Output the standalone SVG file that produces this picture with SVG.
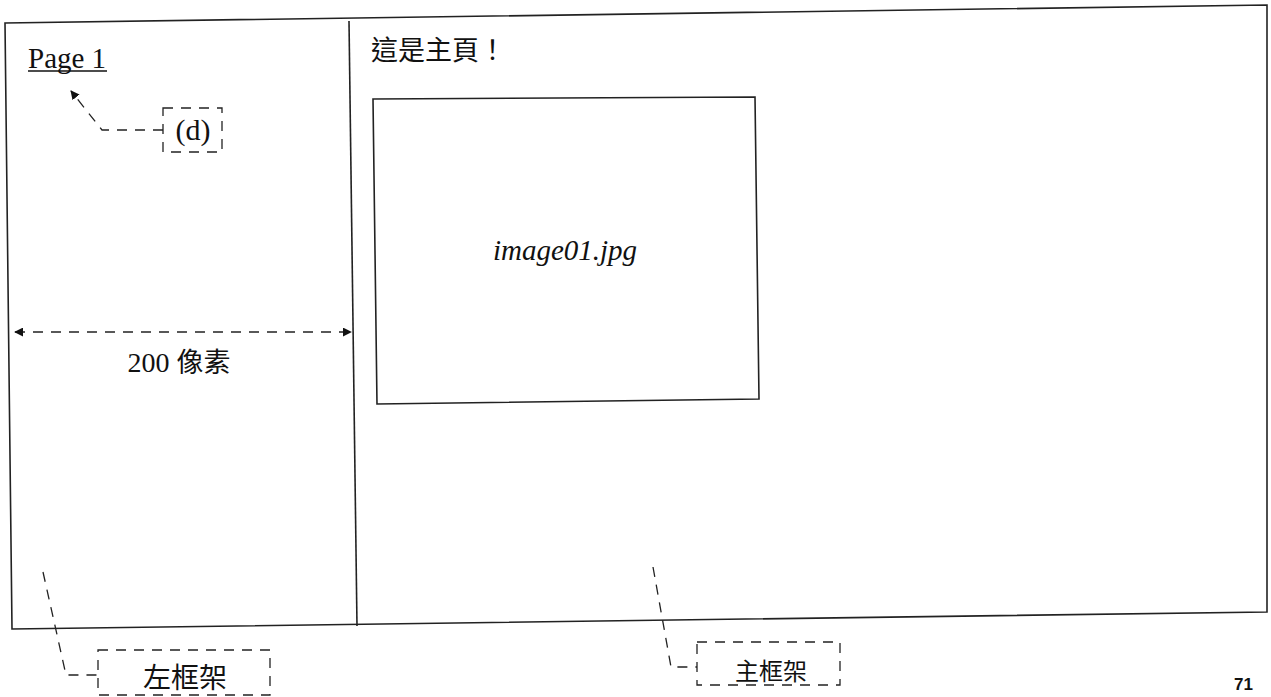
<svg xmlns="http://www.w3.org/2000/svg" width="1271" height="697" viewBox="0 0 1271 697">
<style>
.frame{fill:none;stroke:#222;stroke-width:1.6}
.dash{fill:none;stroke:#222;stroke-width:1.3;stroke-dasharray:10 8}
.serif{font-family:"Liberation Serif","Noto Sans CJK TC",serif;fill:#111}
.cjk{font-family:"Noto Sans CJK TC","Liberation Sans",sans-serif;fill:#111}
</style>
<defs>
<marker id="arr" viewBox="0 0 10 10" refX="9" refY="5" markerWidth="9" markerHeight="9" orient="auto-start-reverse" markerUnits="userSpaceOnUse">
<path d="M0,0 L10,5 L0,10 Z" fill="#111"/>
</marker>
</defs>
<rect width="1271" height="697" fill="#fff"/>
<g id="browser-window">
<polygon class="frame" points="5,23 1267,5 1267,612 12,629"/>
</g>
<g id="left-frame">
<line class="frame" x1="349" y1="21" x2="357" y2="626"/>
<text class="serif" x="28" y="68" font-size="29">Page 1</text>
<line x1="28" y1="71" x2="107" y2="71" stroke="#111" stroke-width="1.3"/>
<text class="serif" x="179" y="372" font-size="28" text-anchor="middle">200 <tspan font-family="Noto Sans CJK TC,sans-serif" font-size="27">像素</tspan></text>
</g>
<g id="main-frame">
<text class="cjk" x="371" y="60" font-size="27">這是主頁！</text>
<g id="image-box">
<polygon class="frame" points="373,99 755,97 759,399 377,404"/>
<text class="serif" x="565" y="260" font-size="29" font-style="italic" text-anchor="middle">image01.jpg</text>
</g>
</g>
<g id="label-d">
<rect class="dash" x="163" y="108" width="59" height="44"/>
<text class="serif" x="193" y="140" font-size="30" text-anchor="middle">(d)</text>
</g>
<g id="label-left">
<rect class="dash" x="98" y="650" width="172" height="45"/>
<text class="cjk" x="185" y="688" font-size="28" text-anchor="middle">左框架</text>
</g>
<g id="label-main">
<rect class="dash" x="697" y="642" width="143" height="43"/>
<text class="cjk" x="771" y="680" font-size="24" text-anchor="middle">主框架</text>
</g>
<g id="connectors">
<path class="dash" d="M163,130 H102 L71,91" marker-end="url(#arr)"/>
<line class="dash" x1="15" y1="332" x2="351" y2="332" marker-start="url(#arr)" marker-end="url(#arr)"/>
<path class="dash" d="M43,572 L66,675 H98"/>
<path class="dash" d="M653,567 L671,667 H697"/>
</g>
<text x="1234" y="690" font-family="Liberation Sans,sans-serif" font-weight="bold" font-size="17" fill="#111">71</text>
</svg>
